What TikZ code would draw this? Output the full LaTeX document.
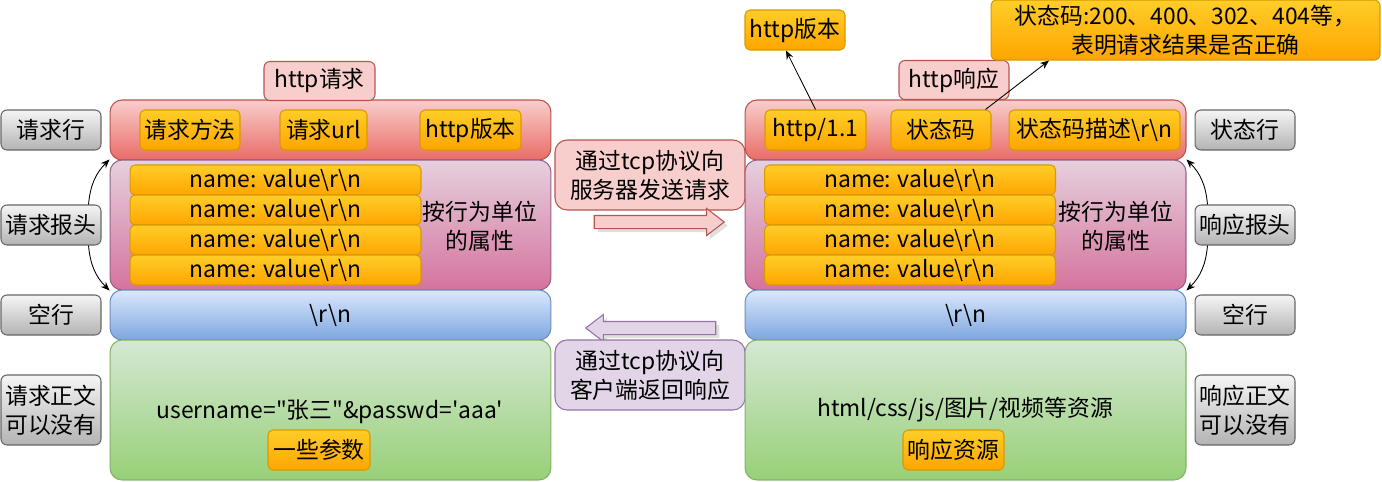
\documentclass[tikz,border=0pt]{standalone}
\usepackage{fontspec}
\setmainfont{Noto Sans CJK SC}
\usepackage{xcolor}
\usetikzlibrary{arrows.meta,positioning,shapes.arrows,shadows}
\definecolor{RowTop}{HTML}{F8CECC}
\definecolor{RowBot}{HTML}{EA6B66}
\definecolor{RowLine}{HTML}{B85450}
\definecolor{HeadTop}{HTML}{E6D0DE}
\definecolor{HeadBot}{HTML}{D5739D}
\definecolor{HeadLine}{HTML}{996185}
\definecolor{BlankTop}{HTML}{DAE8FC}
\definecolor{BlankBot}{HTML}{7EA6E0}
\definecolor{BlankLine}{HTML}{6C8EBF}
\definecolor{BodyTop}{HTML}{D5E8D4}
\definecolor{BodyBot}{HTML}{97D077}
\definecolor{BodyLine}{HTML}{82B366}
\definecolor{TagTop}{HTML}{FFCD28}
\definecolor{TagBot}{HTML}{FFA500}
\definecolor{TagLine}{HTML}{D79B00}
\definecolor{SideTop}{HTML}{F5F5F5}
\definecolor{SideBot}{HTML}{B3B3B3}
\definecolor{SideLine}{HTML}{666666}
\definecolor{NoteFill}{HTML}{F8CECC}
\definecolor{NoteLine}{HTML}{B85450}
\definecolor{BackFill}{HTML}{E1D5E7}
\definecolor{BackLine}{HTML}{9673A6}
\newcommand{\rn}{\textbackslash r\textbackslash n}
\tikzset{
  panelrow/.style={rounded corners=0.24cm,minimum width=8.82cm,inner sep=0pt},
  linerow/.style={panelrow,top color=RowTop,bottom color=RowBot,draw=RowLine,minimum height=1.2cm},
  headrow/.style={panelrow,top color=HeadTop,bottom color=HeadBot,draw=HeadLine,minimum height=2.6cm},
  blankrow/.style={panelrow,top color=BlankTop,bottom color=BlankBot,draw=BlankLine,minimum height=1cm},
  bodyrow/.style={panelrow,top color=BodyTop,bottom color=BodyBot,draw=BodyLine,minimum height=2.8cm},
  tag/.style={top color=TagTop,bottom color=TagBot,draw=TagLine,rounded corners=0.1cm,minimum height=0.8cm,inner sep=0pt},
  field/.style={tag,minimum width=5.82cm,minimum height=0.6cm},
  sidebox/.style={top color=SideTop,bottom color=SideBot,draw=SideLine,rounded corners=0.12cm,minimum width=2cm,minimum height=0.8cm,inner sep=0pt,align=center},
  titlebox/.style={fill=NoteFill,draw=NoteLine,rounded corners=0.12cm,minimum height=0.78cm,inner sep=0pt},
  notebox/.style={rounded corners=0.24cm,minimum width=3.8cm,minimum height=1.4cm,align=center,inner sep=0pt},
  blockarrow/.style={single arrow,single arrow head extend=0.14cm,single arrow tip angle=75,minimum height=2.6cm,inner xsep=0pt,inner ysep=0.12cm,drop shadow={opacity=0.25,shadow xshift=2pt,shadow yshift=-2pt}},
  bendarrow/.style={-{Stealth[length=5pt,width=4pt]},line width=0.5pt},
  callarrow/.style={-{Stealth[length=5pt,width=4pt]},line width=0.5pt}
}
\begin{document}
\begin{tikzpicture}[x=0.02cm,y=-0.02cm,font=\fontsize{13pt}{16.5pt}\selectfont,line width=0.6pt]
 \useasboundingbox (0,0) rectangle (1382,481);
 % 请求
 \node[linerow] (reqline) at (330.5,130) {};
 \node[headrow] (reqhead) at (330.5,225) {};
 \node[blankrow] (reqblank) at (330.5,315) {\rn};
 \node[bodyrow] (reqbody) at (330.5,410) {};
 \node[titlebox,minimum width=2.22cm] (reqtitle) at (319.5,81) {http请求};
 \node[tag,minimum width=2cm] (method) at (190,130) {请求方法};
 \node[tag,minimum width=1.74cm] (url) at (323.5,130) {请求url};
 \node[tag,minimum width=2.02cm] (reqver) at (470.5,130) {http版本};
 \node[field] (reqf1) at (275.5,180) {name: value\rn};
 \node[field] (reqf2) at (275.5,210) {name: value\rn};
 \node[field] (reqf3) at (275.5,240) {name: value\rn};
 \node[field] (reqf4) at (275.5,270) {name: value\rn};
 \node[align=center] (reqattr) at (480,226) {按行为单位\\的属性};
 \node (reqdata) at (330,412) {username=\textquotedbl 张三\textquotedbl\&passwd=\textquotesingle aaa\textquotesingle};
 \node[tag,minimum width=2.04cm] (reqparam) at (319,450) {一些参数};
 \node[sidebox] (reqlinelbl) at (51,130) {请求行};
 \node[sidebox] (reqheadlbl) at (51,225) {请求报头};
 \node[sidebox] (reqblanklbl) at (51,315) {空行};
 \node[sidebox,minimum height=1.4cm] (reqbodylbl) at (51,410) {请求正文\\可以没有};
 \draw[bendarrow] ([xshift=-0.26cm]reqheadlbl.north east) to[bend left=20] (reqhead.north west);
 \draw[bendarrow] ([xshift=-0.26cm]reqheadlbl.south east) to[bend right=20] (reqhead.south west);
 % 传输
 \node[notebox,fill=NoteFill,draw=NoteLine] (sendnote) at (650,175) {通过tcp协议向\\服务器发送请求};
 \node[blockarrow,fill=NoteFill,draw=NoteLine] (sendarrow) at (655,222) {};
 \node[blockarrow,shape border rotate=180,fill=BackFill,draw=BackLine] (backarrow) at (655,328) {};
 \node[notebox,fill=BackFill,draw=BackLine] (backnote) at (650,375) {通过tcp协议向\\客户端返回响应};
 % 响应
 \node[linerow] (resline) at (965.5,130) {};
 \node[headrow] (reshead) at (965.5,225) {};
 \node[blankrow] (resblank) at (965.5,315) {\rn};
 \node[bodyrow] (resbody) at (965.5,410) {};
 \node[titlebox,minimum width=2.2cm] (restitle) at (954,80) {http响应};
 \node[tag,minimum width=2.02cm] (resver) at (815.5,130) {http/1.1};
 \node[tag,minimum width=2cm] (code) at (941,130) {状态码};
 \node[tag,minimum width=3.42cm] (codetext) at (1094.5,130) {状态码描述\rn};
 \node[field] (resf1) at (910,180) {name: value\rn};
 \node[field] (resf2) at (910,210) {name: value\rn};
 \node[field] (resf3) at (910,240) {name: value\rn};
 \node[field] (resf4) at (910,270) {name: value\rn};
 \node[align=center] (resattr) at (1116,226) {按行为单位\\的属性};
 \node (resdata) at (965,410) {html/css/js/图片/视频等资源};
 \node[tag,minimum width=2.02cm] (resfile) at (953.5,450) {响应资源};
 \node[sidebox] (reslinelbl) at (1245,130) {状态行};
 \node[sidebox] (resheadlbl) at (1245,225) {响应报头};
 \node[sidebox] (resblanklbl) at (1245,315) {空行};
 \node[sidebox,minimum height=1.4cm] (resbodylbl) at (1245,410) {响应正文\\可以没有};
 \draw[bendarrow] ([xshift=0.26cm]resheadlbl.north west) to[bend right=20] (reshead.north east);
 \draw[bendarrow] ([xshift=0.26cm]resheadlbl.south west) to[bend left=20] (reshead.south east);
 \node[tag,minimum width=2cm] (vercall) at (795,30) {http版本};
 \node[tag,minimum width=7.78cm,minimum height=1.2cm,align=center] (codecall) at (1185.5,30) {状态码:200、400、302、404等，\\表明请求结果是否正确};
 \draw[callarrow] (resver.north) -- ([xshift=-0.18cm]vercall.south);
 \draw[callarrow] ([xshift=-0.12cm]code.north east) -- ([xshift=1.17cm]codecall.south west);
\end{tikzpicture}
\end{document}
